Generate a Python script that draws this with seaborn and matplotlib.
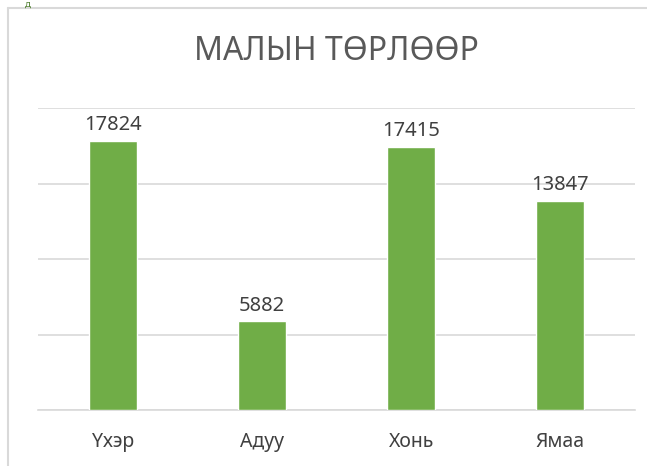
import matplotlib.pyplot as plt
import seaborn as sns
from matplotlib.lines import Line2D

categories = ["Үхэр", "Адуу", "Хонь", "Ямаа"]
values = [17824, 5882, 17415, 13847]
title = "МАЛЫН ТӨРЛӨӨР"

bar_color = "#70AD47"
text_color = "#595959"
grid_color = "#D9D9D9"

sns.set_theme(style="white")
plt.rcParams["font.family"] = ["Noto Sans", "DejaVu Sans"]

fig = plt.figure(figsize=(6.47, 4.66), dpi=100)
ax = fig.add_axes([38 / 647, 56 / 466, 597 / 647, 302 / 466])

sns.barplot(x=categories, y=values, color=bar_color, width=0.32,
            saturation=1, ax=ax, zorder=3)

ax.set_ylim(0, 20000)
ax.set_yticks(range(0, 20001, 5000))
ax.yaxis.grid(True, color=grid_color, linewidth=1.2, zorder=0)
ax.set_yticklabels([])
ax.tick_params(axis="y", length=0)
ax.tick_params(axis="x", length=0, pad=16, labelsize=14, labelcolor="#404040")
ax.set_xlabel("")
ax.set_ylabel("")
for side in ["top", "right", "left"]:
    ax.spines[side].set_visible(False)
ax.spines["bottom"].set_color(grid_color)
ax.spines["bottom"].set_linewidth(1.2)

for i, v in enumerate(values):
    ax.annotate(str(v), (i, v), xytext=(0, 4), textcoords="offset points",
                ha="center", va="bottom", fontsize=14.5, color="#404040")

fig.text(336 / 647, 1 - 52 / 466, title, ha="center", va="center",
         fontsize=23, color=text_color)

# chart frame (cropped screenshot)
fig.add_artist(Line2D([8 / 647, 1], [1 - 8 / 466] * 2, color=grid_color,
                      linewidth=1.5, transform=fig.transFigure))
fig.add_artist(Line2D([8 / 647] * 2, [0, 1 - 8 / 466], color=grid_color,
                      linewidth=1.5, transform=fig.transFigure))
fig.text(25 / 647, 1, "д", ha="left", va="top",
         fontsize=7, color="#548235")

fig.savefig("out.png", dpi=100)
